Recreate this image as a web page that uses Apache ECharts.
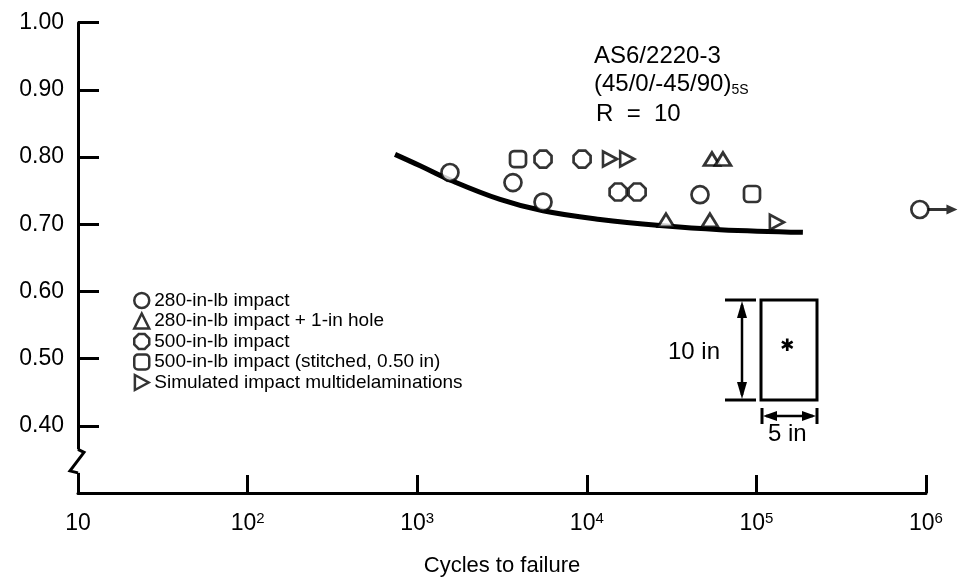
<!DOCTYPE html>
<html>
<head>
<meta charset="utf-8">
<style type="text/css">
body {margin: 0; background-color: #fff}
</style>
</head>
<body>
<div id="main" style="width:958px;height:588px;"></div>
<script src="https://cdn.jsdelivr.net/npm/echarts@6/dist/echarts.min.js"></script>
<script type="text/javascript">

// fitted S-N curve
var curveCycles = [740, 1040, 1560, 3080, 5520, 11970, 27000, 61000, 188000];
var curveRatio = [0.804, 0.787, 0.766, 0.737, 0.720, 0.707, 0.698, 0.692, 0.688];

// test points [cycles, ratio]
var impact280 = [[1560, 0.777], [3670, 0.762], [5520, 0.733], [46500, 0.744], [920000, 0.722]];
var impact280Hole = [[29300, 0.706], [53200, 0.706], [54700, 0.797], [63500, 0.797]];
var impact500 = [[5520, 0.797], [9380, 0.797], [15300, 0.748], [19800, 0.748]];
var impact500Stitched = [[3930, 0.797], [94200, 0.745]];
var simulated = [[13700, 0.797], [17300, 0.797], [132000, 0.703]];

// runout arrow to the right of the last 280-in-lb point
var runoutArrow = [[1250000, 0.722]];

var legendNames = [
    '280-in-lb impact',
    '280-in-lb impact + 1-in hole',
    '500-in-lb impact',
    '500-in-lb impact (stitched, 0.50 in)',
    'Simulated impact multidelaminations'
];
var yTicks = [0.3, 1.0, 0.1];
var supDigits = ['', '', '2', '3', '4', '5', '6'];

var FONT = '"Liberation Sans", Arial, sans-serif';
var octagon = 'path://M3,0 L7,0 L10,3 L10,7 L7,10 L3,10 L0,7 L0,3 Z';
var rightTri = 'path://M0,0 L11,6 L0,12 Z';
var arrowPath = 'path://M0,3.6 L19,3.6 L19,0 L30,5 L19,10 L19,6.4 L0,6.4 Z';

var myChart = echarts.init(document.getElementById('main'));

var markerStyle = {color: '#fff', borderColor: '#000', borderWidth: 2.7};

function scatter(name, data, symbol, size) {
    return {
        name: name,
        type: 'scatter',
        data: data,
        symbol: symbol,
        symbolSize: size,
        itemStyle: markerStyle,
        z: 5
    };
}

option = {
    animation: false,
    textStyle: {fontFamily: FONT},
    grid: {left: 78, right: 32, top: 22.7, bottom: 95},
    legend: {
        data: legendNames,
        orient: 'vertical',
        left: 128,
        top: 286,
        itemGap: 1.5,
        itemWidth: 15,
        itemHeight: 15,
        textStyle: {fontSize: 19, color: '#000', fontFamily: FONT},
        itemStyle: {borderWidth: 2.5, borderColor: '#000', color: '#fff'}
    },
    xAxis: {
        type: 'log',
        logBase: 10,
        min: 10,
        max: 1000000,
        name: 'Cycles to failure',
        nameLocation: 'middle',
        nameGap: 62,
        nameTextStyle: {fontSize: 22, color: '#000', fontFamily: FONT},
        axisLine: {lineStyle: {color: '#000', width: 3}},
        axisTick: {inside: true, length: 18, lineStyle: {width: 3, color: '#000'}},
        splitLine: {show: false},
        axisLabel: {
            margin: 18,
            color: '#000',
            formatter: function (v) {
                var p = Math.round(Math.log10(v));
                if (p <= 1) return '{b|10}';
                return '{b|10}{s|' + supDigits[p] + '}';
            },
            rich: {
                b: {fontSize: 23, lineHeight: 26, fontFamily: FONT, color: '#000'},
                s: {fontSize: 15, lineHeight: 17, verticalAlign: 'top', fontFamily: FONT, color: '#000'}
            }
        }
    },
    yAxis: {
        type: 'value',
        min: yTicks[0],
        max: yTicks[1],
        interval: yTicks[2],
        axisLine: {show: true, lineStyle: {color: '#000', width: 3}},
        axisTick: {show: true, inside: true, length: 21, lineStyle: {width: 3, color: '#000'}},
        splitLine: {show: false},
        axisLabel: {
            margin: 14,
            fontSize: 23,
            color: '#000',
            fontFamily: FONT,
            formatter: function (v) {
                return v < 0.35 ? '' : v.toFixed(2);
            }
        }
    },
    series: [
        {
            name: 'curve',
            type: 'line',
            data: curveCycles.map(function (c, i) { return [c, curveRatio[i]]; }),
            smooth: 0.4,
            symbol: 'none',
            lineStyle: {color: '#000', width: 5},
            z: 3
        },
        {
            name: 'runout',
            type: 'scatter',
            clip: false,
            data: runoutArrow,
            symbol: arrowPath,
            symbolSize: [30, 10],
            itemStyle: {color: '#000'},
            z: 4
        },
        scatter(legendNames[0], impact280, 'circle', 17),
        scatter(legendNames[1], impact280Hole, 'triangle', [16, 13]),
        scatter(legendNames[2], impact500, octagon, 17),
        scatter(legendNames[3], impact500Stitched, 'roundRect', 16),
        scatter(legendNames[4], simulated, rightTri, [14, 15])
    ]
};

myChart.setOption(option);

// axis break, annotation and specimen sketch
var yTop = myChart.convertToPixel({yAxisIndex: 0}, 0.33);
var yBot = myChart.convertToPixel({yAxisIndex: 0}, 0.365);
var ax = 78;
var lineSt = {stroke: '#000', lineWidth: 3};
var big = '24px ' + FONT;

myChart.setOption({
    graphic: [
        {type: 'rect', shape: {x: ax - 5, y: yBot, width: 10, height: yTop - yBot}, style: {fill: '#fff'}, z: 50},
        {type: 'polyline', shape: {points: [[ax, yBot], [ax + 6, yBot + 3], [ax - 8, yTop - 2], [ax, yTop]]},
            style: lineSt, z: 51},
        {type: 'text', left: 594, top: 44, style: {text: 'AS6/2220-3', fill: '#000', font: big}},
        {type: 'text', left: 594, top: 72, style: {
            text: '{a|(45/0/-45/90)}{s|5S}',
            rich: {
                a: {fontSize: 24, fontFamily: FONT, fill: '#000', lineHeight: 27},
                s: {fontSize: 14, fontFamily: FONT, fill: '#000', lineHeight: 14, verticalAlign: 'bottom'}
            }
        }},
        {type: 'text', left: 596, top: 102, style: {text: 'R  =  10', fill: '#000', font: big}},
        // specimen
        {type: 'rect', shape: {x: 761, y: 300, width: 56, height: 100}, style: {fill: 'none', stroke: '#000', lineWidth: 3}},
        {type: 'text', left: 780, top: 338, style: {text: '✱', fill: '#000', font: 'bold 17px "DejaVu Sans"'}},
        {type: 'line', shape: {x1: 725, y1: 300, x2: 756, y2: 300}, style: lineSt},
        {type: 'line', shape: {x1: 725, y1: 400, x2: 756, y2: 400}, style: lineSt},
        {type: 'line', shape: {x1: 742, y1: 305, x2: 742, y2: 395}, style: {stroke: '#000', lineWidth: 2.5}},
        {type: 'polygon', shape: {points: [[742, 301], [737, 318], [747, 318]]}, style: {fill: '#000'}},
        {type: 'polygon', shape: {points: [[742, 399], [737, 382], [747, 382]]}, style: {fill: '#000'}},
        {type: 'text', left: 668, top: 340, style: {text: '10 in', fill: '#000', font: big}},
        {type: 'line', shape: {x1: 762, y1: 408, x2: 762, y2: 424}, style: lineSt},
        {type: 'line', shape: {x1: 817, y1: 408, x2: 817, y2: 424}, style: lineSt},
        {type: 'line', shape: {x1: 766, y1: 416, x2: 813, y2: 416}, style: {stroke: '#000', lineWidth: 2.5}},
        {type: 'polygon', shape: {points: [[763, 416], [777, 411], [777, 421]]}, style: {fill: '#000'}},
        {type: 'polygon', shape: {points: [[816, 416], [802, 411], [802, 421]]}, style: {fill: '#000'}},
        {type: 'text', left: 768, top: 422, style: {text: '5 in', fill: '#000', font: big}}
    ]
});
</script>
</body>
</html>
